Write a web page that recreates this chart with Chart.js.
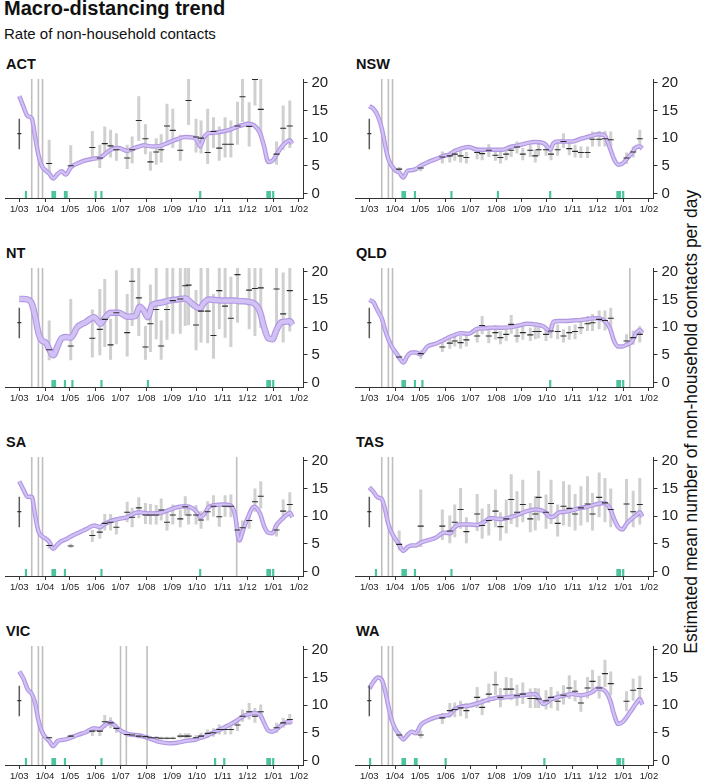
<!DOCTYPE html>
<html lang="en">
<head>
<meta charset="UTF-8">
<title>Macro-distancing trend</title>
<script src="https://cdn.jsdelivr.net/npm/chart.js@4.4.0/dist/chart.umd.min.js"></script>
<style>
  body { margin: 0; width: 703px; height: 782px; background: #fff; position: relative; overflow: hidden;
         font-family: 'Liberation Sans', Arial, Helvetica, sans-serif; color: #111; }
  .title { position: absolute; left: 4px; top: -2px; font-size: 20px; font-weight: bold; line-height: 1; white-space: nowrap; }
  .subtitle { position: absolute; left: 4px; top: 26px; font-size: 15px; line-height: 1; white-space: nowrap; }
  .label { position: absolute; font-size: 14.5px; font-weight: bold; line-height: 1; }
  .panel { position: absolute; width: 340px; height: 150px; }
  .ylab { position: absolute; left: 452px; top: 413px; width: 480px; font-size: 17.5px; line-height: 1;
          text-align: center; white-space: nowrap; transform: rotate(-90deg); transform-origin: center; }
</style>
</head>
<body>
<div class="title">Macro-distancing trend</div>
<div class="subtitle">Rate of non-household contacts</div>
<div class="ylab">Estimated mean number of non-household contacts per day</div>

<script>
// days since 1 March 2020
const MONTH_TICKS = [0, 31, 61, 92, 122, 153, 184, 214, 245, 275, 306, 337];
const MONTH_LABELS = ['1/03', '1/04', '1/05', '1/06', '1/07', '1/08', '1/09', '1/10', '1/11', '1/12', '1/01', '1/02'];
const Y_TICKS = [0, 5, 10, 15, 20];

// pre-pandemic baseline, drawn at 1/03
const BASE_DAY = [0];
const BASE_MEAN = [10.8];
const BASE_LO = [8.0];
const BASE_HI = [13.5];

const SURVEY_DAYS = [36, 62, 88, 97, 103, 110, 117, 130, 136, 144, 152, 158, 165, 171, 178, 185, 194, 200, 204,
                     213, 219, 227, 234, 241, 248, 255, 263, 269, 277, 284, 291, 310, 318, 326];

const TREND_DAYS = [0, 5, 10, 15, 19, 23, 27, 32, 36, 41, 46, 51, 56, 62, 70, 80, 90, 98, 100, 110,
                    120, 130, 140, 145, 150, 155, 160, 170, 180, 190, 200, 210, 215, 218, 222, 228, 236, 245, 255, 260,
                    265, 270, 275, 283, 290, 295, 300, 305, 310, 316, 322, 326, 329];

// ACT
const ACT_TREND = [17.6, 15.7, 14.0, 13.6, 10.3, 7.0, 5.0, 4.1, 3.6, 2.7, 3.5, 4.0, 3.4, 4.7, 5.4, 6.0, 6.3, 6.5, 6.7, 7.9,
                   8.2, 7.7, 8.3, 8.5, 8.7, 8.6, 8.5, 8.6, 9.2, 9.8, 10.2, 10.1, 9.4, 8.5, 10.0, 10.9, 11.0, 11.2, 11.6, 11.9,
                   12.2, 12.4, 12.6, 12.3, 11.0, 8.5, 5.7, 5.9, 7.0, 8.4, 9.3, 9.6, 9.0];
const ACT_MEAN = [5.4, 5.0, 8.3, 6.4, 9.0, 8.6, 7.9, 6.4, 7.9, 13.2, 9.9, 5.7, 7.5, 7.9, 12.2, 11.4, 7.8, null, 16.8,
                  10.2, 10.0, 7.4, 11.2, 8.2, 8.9, 8.9, 12.2, 17.5, 12.1, 20.6, 15.2, 7.1, 11.8, 12.2];
const ACT_LO = [3.8, 4.4, 5.9, 4.6, 6.8, 6.5, 5.9, 4.4, 5.4, 9.5, 7.1, 4.1, 5.2, 5.6, 8.9, 8.2, 5.9, null, 12.4,
                7.4, 7.2, 5.3, 8.2, 5.9, 6.5, 6.5, 8.8, 12.9, 8.5, 15.9, 10.6, 5.2, 7.9, 8.2];
const ACT_HI = [9.7, 8.7, 11.3, 8.8, 12.1, 11.5, 10.9, 8.8, 10.3, 17.6, 12.5, 7.6, 10.0, 10.7, 16.2, 15.3, 10.6, null, 20.9,
                13.5, 13.2, 15.3, 13.8, 12.1, 13.8, 13.2, 16.6, 20.9, 16.5, 20.9, 20.9, 9.4, 15.9, 16.8];
const ACT_HOLIDAYS = [8, 40, 41, 42, 43, 55, 57, 92, 99, 218, 299, 300, 302, 306];
const ACT_EVENTS = [15, 23, 28];

// NSW
const NSW_TREND = [15.8, 15.3, 14.1, 11.8, 8.8, 6.2, 5.0, 4.1, 3.8, 2.9, 4.1, 4.2, 4.4, 5.0, 5.6, 6.2, 6.8, 7.1, 7.4, 8.1,
                   8.4, 7.9, 7.9, 7.9, 7.9, 7.9, 7.9, 8.4, 8.7, 9.1, 9.3, 9.1, 8.4, 7.9, 9.1, 9.4, 9.4, 9.4, 9.9, 10.1,
                   10.3, 10.5, 10.7, 10.6, 8.2, 6.2, 5.2, 5.4, 6.2, 7.2, 8.4, 8.5, 8.1];
const NSW_MEAN = [4.4, 4.6, 6.6, 6.8, 7.1, 6.8, 6.5, 7.4, 7.2, 7.8, 6.9, 6.5, 7.1, 7.8, 8.4, 7.1, 7.8, 6.8, 7.9,
                  7.9, 7.1, 7.9, 9.4, 8.1, 7.6, 7.4, 7.4, 9.8, 9.8, 9.9, 9.7, 6.4, 7.5, 9.9];
const NSW_LO = [3.8, 4.0, 5.4, 5.6, 5.9, 5.6, 5.4, 6.2, 6.0, 6.6, 5.9, 5.4, 6.0, 6.6, 7.2, 6.0, 6.6, 5.6, 6.8,
                6.8, 6.0, 6.8, 8.2, 6.9, 6.5, 6.4, 6.4, 8.5, 8.5, 8.5, 8.4, 5.3, 6.5, 8.4];
const NSW_HI = [4.8, 5.2, 7.6, 7.6, 8.1, 7.9, 7.5, 8.4, 8.1, 8.9, 7.9, 7.6, 8.1, 8.8, 9.4, 8.2, 8.8, 7.9, 9.1,
                9.1, 8.2, 9.1, 10.9, 9.4, 8.8, 8.5, 8.5, 11.2, 11.3, 11.3, 11.2, 7.4, 8.5, 11.5];
const NSW_HOLIDAYS = [40, 41, 42, 43, 55, 99, 155, 218, 299, 300, 302, 306];
const NSW_EVENTS = [15, 23, 28];

// NT
const NT_TREND = [15.1, 15.1, 15.0, 14.3, 12.0, 9.0, 7.6, 7.2, 6.0, 4.9, 6.5, 8.0, 8.2, 8.1, 10.0, 10.9, 11.8, 10.6, 11.0, 12.6,
                  12.6, 11.9, 12.0, 13.7, 13.0, 11.8, 14.0, 14.4, 14.8, 15.0, 15.2, 14.0, 13.5, 13.4, 14.3, 15.0, 14.9, 14.8, 14.8, 14.8,
                  14.7, 14.7, 14.6, 14.3, 12.8, 10.0, 8.0, 7.8, 9.5, 10.9, 11.0, 11.1, 10.4];
const NT_MEAN = [5.9, 6.6, 8.0, 9.6, 11.4, 6.8, 12.6, 9.0, 18.3, 15.3, 6.4, 10.6, 13.2, 6.6, 13.2, 14.8, 15.1, 17.5, 17.6,
                 10.4, 12.9, 12.9, 8.5, 16.6, 13.8, 11.6, 19.5, null, 16.7, 17.0, 17.1, 16.9, 12.4, 16.6];
const NT_LO = [4.0, 4.0, 4.5, 4.9, 6.4, 4.1, 6.9, 4.7, 10.2, 8.4, 4.1, 5.5, 7.8, 4.1, 7.7, 8.8, 8.8, 10.2, 10.4,
               5.8, 7.2, 7.1, 4.3, 9.6, 8.1, 6.4, 10.8, null, 9.6, 8.4, 9.9, 9.0, 7.2, 9.2];
const NT_HI = [11.2, 15.1, 13.2, 16.9, 18.7, 11.5, 20.3, 16.0, 21.0, 21.0, 10.2, 17.7, 21.0, 11.2, 21.0, 21.0, 21.0, 21.0, 21.0,
               16.7, 21.0, 21.0, 16.0, 21.0, 21.0, 19.1, 21.0, null, 21.0, 21.0, 21.0, 21.0, 19.9, 21.0];
const NT_HOLIDAYS = [40, 41, 42, 43, 55, 64, 99, 155, 299, 300, 302, 306];
const NT_EVENTS = [15, 23, 28];

// QLD
const QLD_TREND = [14.9, 14.5, 13.0, 11.6, 9.5, 7.8, 6.5, 5.4, 4.5, 3.6, 4.8, 5.4, 5.4, 5.1, 6.5, 7.0, 7.7, 8.3, 8.4, 8.9,
                   8.8, 9.7, 9.8, 9.9, 9.9, 9.9, 9.9, 10.0, 10.3, 10.6, 10.5, 10.1, 9.5, 9.2, 11.0, 11.1, 11.1, 11.2, 11.3, 11.4,
                   11.5, 11.6, 11.6, 11.2, 9.8, 7.5, 6.5, 6.5, 6.8, 7.3, 9.0, 9.5, 8.9];
const QLD_MEAN = [4.6, 5.2, 6.4, 7.1, 7.5, 7.2, 7.7, 8.4, 10.3, 8.4, 9.0, 8.1, 8.7, 10.5, 8.4, 9.0, 8.6, 9.2, 9.2,
                  8.7, 9.3, 9.2, 8.4, 9.0, 9.2, 9.9, 10.6, 10.8, 11.4, 11.2, 11.6, 7.5, 8.1, 8.7];
const QLD_LO = [4.1, 4.3, 5.5, 6.1, 6.5, 6.1, 6.5, 7.2, 8.7, 7.1, 7.7, 6.9, 7.5, 8.8, 7.2, 7.7, 7.5, 7.8, 8.0,
                7.5, 8.0, 7.8, 7.2, 7.7, 7.8, 8.7, 9.3, 9.3, 9.6, 9.4, 9.6, 6.4, 6.8, 7.2];
const QLD_HI = [5.0, 5.8, 7.2, 8.1, 8.4, 8.4, 8.7, 9.6, 12.0, 9.6, 10.4, 9.3, 10.0, 12.2, 9.8, 10.2, 9.9, 10.5, 10.5,
                10.0, 10.6, 10.5, 9.6, 10.2, 10.5, 11.1, 12.0, 12.4, 13.0, 13.0, 13.5, 8.7, 9.4, 10.2];
const QLD_HOLIDAYS = [40, 41, 42, 43, 55, 64, 218, 299, 300, 302, 306];
const QLD_EVENTS = [15, 23, 28, 314];

// SA
const SA_TREND = [16.3, 14.8, 13.5, 13.5, 10.2, 7.3, 6.4, 5.9, 5.4, 4.1, 4.9, 5.5, 5.8, 6.3, 6.9, 7.6, 8.3, 8.0, 8.3, 9.1,
                  9.5, 9.8, 10.6, 10.7, 10.6, 10.5, 10.5, 10.6, 11.1, 11.6, 11.8, 11.3, 10.5, 9.8, 10.2, 11.6, 12.0, 12.1, 11.9, 10.2,
                  5.6, 7.6, 9.6, 11.7, 10.5, 8.2, 7.0, 6.9, 8.4, 9.4, 10.2, 10.6, 9.8];
const SA_MEAN = [4.7, 4.6, 6.5, 7.1, 8.7, 8.9, 8.0, 10.7, 9.8, 11.5, 10.2, 10.2, 10.2, 11.1, 8.9, 10.2, 9.5, 11.7, 10.2,
                 10.2, 9.3, 10.8, 11.8, 9.9, 11.8, 11.8, 7.5, 7.9, 9.2, 12.6, 13.6, 7.5, 10.9, 12.1];
const SA_LO = [4.1, 4.3, 5.3, 5.9, 7.4, 7.4, 6.7, 8.9, 8.0, 9.6, 8.6, 8.5, 8.5, 9.2, 7.4, 8.5, 8.0, 10.1, 8.5,
               8.5, 7.7, 9.2, 9.9, 8.1, 9.9, 9.8, 6.3, 6.7, 7.7, 10.8, 11.4, 6.3, 9.2, 10.1];
const SA_HI = [5.1, 5.0, 7.5, 8.3, 10.4, 10.4, 9.3, 12.6, 11.5, 13.4, 12.4, 12.2, 12.0, 13.2, 10.7, 12.1, 11.2, 13.6, 12.1,
               12.0, 10.9, 12.7, 13.8, 12.1, 13.8, 13.9, 8.9, 9.2, 10.7, 15.0, 16.3, 8.7, 13.0, 14.3];
const SA_HOLIDAYS = [8, 40, 41, 42, 43, 55, 99, 218, 299, 300, 302, 306];
const SA_EVENTS = [15, 23, 28, 262];

// TAS
const TAS_TREND = [15.2, 14.4, 13.4, 13.1, 11.2, 8.5, 7.0, 5.7, 4.8, 3.7, 4.4, 4.7, 4.7, 5.2, 5.6, 6.1, 7.0, 6.9, 7.5, 8.5,
                   8.5, 8.4, 9.1, 9.6, 9.6, 9.5, 9.5, 9.8, 10.3, 10.9, 11.2, 10.9, 10.2, 9.8, 9.9, 10.6, 10.8, 11.1, 11.5, 11.6,
                   11.8, 12.0, 12.2, 12.4, 11.4, 9.5, 8.0, 7.6, 8.6, 9.5, 10.2, 10.7, 9.9];
const TAS_MEAN = [4.9, 8.2, 8.2, 7.3, 8.9, 11.2, 7.2, 10.4, 8.3, 9.2, 10.9, 8.1, 9.5, 13.0, 10.7, 12.1, 9.5, 10.4, 13.4,
                  10.7, 12.3, 8.7, 11.8, 11.4, 10.4, 11.5, 12.2, 10.4, 13.4, 12.4, 11.2, 12.2, 10.8, 12.1];
const TAS_LO = [3.8, 4.4, 5.7, 5.1, 6.2, 7.7, 5.1, 7.3, 5.9, 6.5, 8.0, 5.6, 6.9, 8.6, 8.0, 8.9, 7.1, 7.4, 9.2,
                7.7, 8.6, 6.3, 8.3, 8.1, 7.4, 8.3, 8.9, 7.4, 9.8, 8.9, 8.0, 8.5, 8.0, 8.5];
const TAS_HI = [7.4, 14.8, 11.2, 10.1, 12.1, 15.1, 9.8, 14.0, 11.4, 12.2, 14.8, 10.7, 13.0, 17.6, 14.5, 16.6, 12.4, 13.6, 18.2,
                13.9, 16.6, 12.1, 16.3, 15.7, 14.0, 15.4, 17.2, 14.2, 17.9, 16.9, 15.0, 16.7, 14.6, 16.9];
const TAS_HOLIDAYS = [8, 40, 41, 42, 43, 44, 55, 99, 299, 300, 302, 306];
const TAS_EVENTS = [15, 23, 28];

// VIC
const VIC_TREND = [16.1, 14.8, 12.9, 12.0, 10.4, 7.3, 5.3, 4.1, 3.5, 2.6, 3.5, 3.7, 3.8, 4.1, 4.6, 5.1, 5.8, 5.6, 6.0, 6.8,
                   5.6, 4.8, 4.6, 4.5, 4.3, 4.1, 3.8, 3.3, 3.1, 3.2, 3.5, 3.7, 3.9, 4.1, 4.2, 4.6, 5.2, 5.8, 6.6, 7.0,
                   7.5, 8.0, 8.3, 8.6, 8.3, 6.8, 5.4, 5.2, 5.6, 6.4, 6.9, 7.0, 7.1];
const VIC_MEAN = [4.1, 4.4, 5.3, 5.3, 7.0, 6.8, 5.8, 4.7, 4.6, 4.4, 4.3, 4.1, 4.1, 4.0, 4.0, 4.0, 4.4, 4.4, 4.4,
                  4.1, 4.4, 4.9, 5.0, 5.6, 5.6, 5.6, 6.4, 8.0, 8.8, 8.0, 8.8, 5.9, 6.8, 7.4];
const VIC_LO = [4.0, 4.1, 4.4, 4.4, 5.9, 5.8, 5.0, 4.3, 4.3, 4.0, 4.0, 3.8, 3.9, 3.8, 3.8, 3.8, 4.0, 4.0, 4.0,
                3.8, 4.0, 4.1, 4.3, 4.7, 4.7, 4.7, 5.3, 7.0, 7.4, 6.8, 7.4, 5.0, 5.9, 6.4];
const VIC_HI = [4.3, 4.7, 6.0, 6.2, 8.2, 7.8, 6.5, 5.2, 5.0, 4.9, 4.6, 4.4, 4.4, 4.3, 4.3, 4.3, 4.9, 4.9, 4.9,
                4.6, 5.0, 5.6, 5.8, 6.5, 6.5, 6.5, 7.4, 9.2, 10.4, 9.5, 10.1, 6.8, 7.7, 8.4];
const VIC_HOLIDAYS = [8, 40, 41, 42, 43, 55, 99, 236, 247, 299, 300, 302, 306];
const VIC_EVENTS = [15, 23, 28, 122, 129, 154];

// WA
const WA_TREND = [13.0, 14.2, 15.0, 14.6, 12.6, 9.8, 7.3, 5.5, 4.7, 3.8, 4.6, 5.2, 4.9, 6.4, 7.2, 7.8, 8.1, 8.4, 8.9, 9.7,
                  9.9, 10.3, 10.8, 11.1, 11.2, 11.4, 11.4, 11.5, 11.7, 11.9, 12.0, 10.2, 10.6, 11.0, 11.2, 11.5, 11.8, 12.0, 11.8, 11.9,
                  12.1, 12.5, 13.0, 12.7, 11.0, 8.3, 6.6, 6.9, 7.8, 9.1, 10.4, 11.1, 10.1];
const WA_MEAN = [4.6, 4.6, 7.7, 9.0, 9.2, 9.5, 9.0, 11.4, 9.6, 12.0, 13.7, 11.4, 12.9, 12.9, 11.7, 12.0, 11.2, 11.2, 11.1,
                 10.8, 11.4, 10.7, 11.8, 13.1, 12.5, 10.4, 13.1, 14.3, 13.1, 15.7, 13.9, 10.7, 12.7, 13.0];
const WA_LO = [4.0, 4.0, 6.6, 7.7, 7.8, 8.0, 7.6, 9.5, 8.2, 10.4, 11.8, 9.6, 11.2, 10.9, 9.9, 10.2, 9.5, 9.5, 9.5,
               9.2, 9.5, 9.0, 10.1, 11.1, 10.7, 8.8, 11.2, 12.4, 11.2, 13.3, 11.8, 8.9, 10.8, 10.9];
const WA_HI = [5.2, 5.4, 8.6, 10.4, 10.5, 10.8, 10.4, 13.3, 11.2, 13.9, 16.1, 13.1, 15.1, 14.9, 13.7, 14.1, 13.0, 13.1, 13.0,
               12.7, 13.3, 12.5, 13.6, 15.4, 14.5, 12.1, 15.1, 16.4, 15.3, 18.2, 16.1, 12.5, 14.8, 15.3];
const WA_HOLIDAYS = [1, 40, 41, 42, 43, 55, 57, 92, 211, 299, 300, 302, 306];
const WA_EVENTS = [15, 23, 28];

const PANELS = [
  { name: 'ACT', trend: ACT_TREND, mean: ACT_MEAN, lo: ACT_LO, hi: ACT_HI, hol: ACT_HOLIDAYS, ev: ACT_EVENTS },
  { name: 'NSW', trend: NSW_TREND, mean: NSW_MEAN, lo: NSW_LO, hi: NSW_HI, hol: NSW_HOLIDAYS, ev: NSW_EVENTS },
  { name: 'NT',  trend: NT_TREND,  mean: NT_MEAN,  lo: NT_LO,  hi: NT_HI,  hol: NT_HOLIDAYS,  ev: NT_EVENTS },
  { name: 'QLD', trend: QLD_TREND, mean: QLD_MEAN, lo: QLD_LO, hi: QLD_HI, hol: QLD_HOLIDAYS, ev: QLD_EVENTS },
  { name: 'SA',  trend: SA_TREND,  mean: SA_MEAN,  lo: SA_LO,  hi: SA_HI,  hol: SA_HOLIDAYS,  ev: SA_EVENTS },
  { name: 'TAS', trend: TAS_TREND, mean: TAS_MEAN, lo: TAS_LO, hi: TAS_HI, hol: TAS_HOLIDAYS, ev: TAS_EVENTS },
  { name: 'VIC', trend: VIC_TREND, mean: VIC_MEAN, lo: VIC_LO, hi: VIC_HI, hol: VIC_HOLIDAYS, ev: VIC_EVENTS },
  { name: 'WA',  trend: WA_TREND,  mean: WA_MEAN,  lo: WA_LO,  hi: WA_HI,  hol: WA_HOLIDAYS,  ev: WA_EVENTS }
];

const Y_MIN = -0.83, Y_MAX = 20.7, X_MIN = -17, X_MAX = 342.5;
const HOLIDAY_TOP = 0.45;
const RIBBON = { NT: 6.5 };   // wider band where the estimate is less certain

Chart.defaults.font.family = "'Liberation Sans', Arial, Helvetica, sans-serif";
Chart.defaults.color = '#222';

// vertical segments x:[lo..hi] separated by gaps
function segments(xs, los, his) {
  const out = [];
  xs.forEach((x, i) => {
    if (los[i] == null || his[i] == null) return;
    out.push({ x: x, y: los[i] }, { x: x, y: his[i] }, { x: x, y: null });
  });
  return out;
}
function points(xs, ys) {
  const out = [];
  xs.forEach((x, i) => { if (ys[i] != null) out.push({ x: x, y: ys[i] }); });
  return out;
}

PANELS.forEach((p, idx) => {
  const col = idx % 2, row = Math.floor(idx / 2);
  const left = col * 350;
  const plotTop = 76 + row * 189;

  const lab = document.createElement('div');
  lab.className = 'label';
  lab.textContent = p.name;
  lab.style.left = (left + 6) + 'px';
  lab.style.top = (plotTop - 19.5) + 'px';
  document.body.appendChild(lab);

  const wrap = document.createElement('div');
  wrap.className = 'panel';
  wrap.style.left = left + 'px';
  wrap.style.top = (plotTop - 10) + 'px';
  const cv = document.createElement('canvas');
  cv.width = 340; cv.height = 150;
  wrap.appendChild(cv);
  document.body.appendChild(wrap);

  const rw = RIBBON[p.name] || 4.5;
  const evs = p.ev.map(() => Y_MIN), eve = p.ev.map(() => Y_MAX);
  const hs = p.hol.map(() => Y_MIN), he = p.hol.map(() => HOLIDAY_TOP);

  new Chart(cv, {
    type: 'line',
    data: {
      datasets: [
        { data: segments(p.ev, evs, eve), borderColor: '#bfbfbf', borderWidth: 1.6, pointRadius: 0, clip: 0, order: 7 },
        { data: segments(p.hol, hs, he), borderColor: '#4cc49c', borderWidth: 2.2, pointRadius: 0, clip: 0, order: 6 },
        { data: segments(SURVEY_DAYS, p.lo, p.hi), borderColor: '#d0d0d0', borderWidth: 3, pointRadius: 0, clip: 0, order: 5 },
        { data: points(TREND_DAYS, p.trend), borderColor: '#b197e2', borderWidth: rw, pointRadius: 0,
          cubicInterpolationMode: 'monotone', order: 4 },
        { data: points(TREND_DAYS, p.trend), borderColor: '#d2c1f4', borderWidth: rw - 2.3, pointRadius: 0,
          cubicInterpolationMode: 'monotone', order: 3 },
        { data: points(SURVEY_DAYS, p.mean), showLine: false, pointStyle: 'line', pointRadius: 3,
          pointBorderWidth: 1.1, pointBorderColor: '#2a2a2a', order: 2 },
        { data: segments(BASE_DAY, BASE_LO, BASE_HI), borderColor: '#5a5a5a', borderWidth: 1.5, pointRadius: 0, order: 1 },
        { data: points(BASE_DAY, BASE_MEAN), showLine: false, pointStyle: 'line', pointRadius: 2,
          pointBorderWidth: 1.2, pointBorderColor: '#333', order: 0 }
      ]
    },
    options: {
      responsive: false,
      animation: false,
      events: [],
      layout: { padding: { top: 10, right: 4.5, left: 0, bottom: 0 } },
      plugins: { legend: { display: false }, tooltip: { enabled: false } },
      scales: {
        x: {
          type: 'linear', min: X_MIN, max: X_MAX,
          afterBuildTicks: s => { s.ticks = MONTH_TICKS.map(v => ({ value: v })); },
          afterFit: s => { s.height = 18; },
          ticks: { autoSkip: false, maxRotation: 0, padding: 2, font: { size: 9.5 }, color: '#222',
                   callback: (v, i) => MONTH_LABELS[i] },
          grid: { display: true, drawOnChartArea: false, drawTicks: true, tickLength: 4, color: '#333' },
          border: { display: true, color: '#333', width: 1 }
        },
        y: {
          position: 'right', min: Y_MIN, max: Y_MAX,
          afterBuildTicks: s => { s.ticks = Y_TICKS.map(v => ({ value: v })); },
          afterFit: s => { s.width = 32; },
          ticks: { padding: 4, font: { size: 15 }, color: '#222' },
          grid: { display: true, drawOnChartArea: false, drawTicks: true, tickLength: 4, color: '#333' },
          border: { display: true, color: '#333', width: 1 }
        }
      }
    }
  });
});
</script>
</body>
</html>
